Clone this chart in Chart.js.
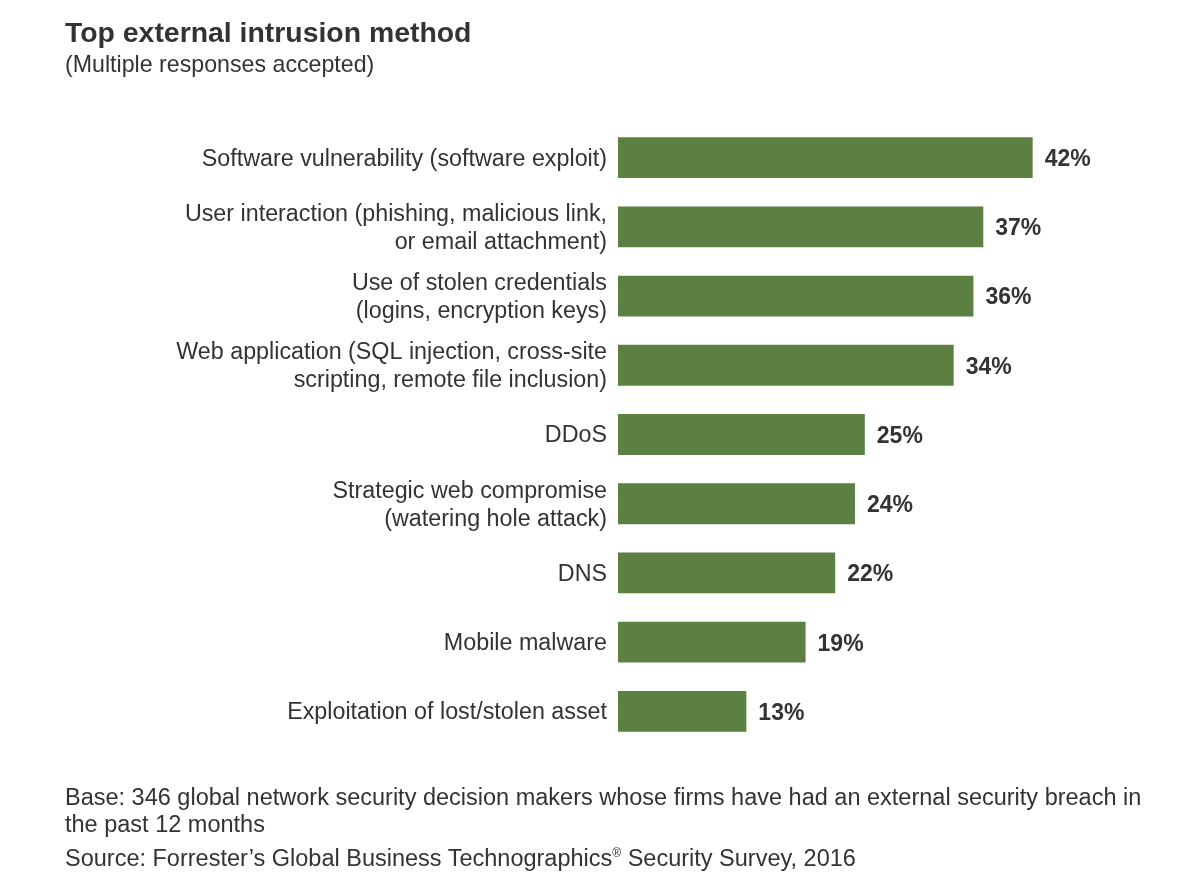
<!DOCTYPE html>
<html>
<head>
<meta charset="utf-8">
<script src="https://cdn.jsdelivr.net/npm/chart.js@4"></script>
<style>
  body { margin: 0; background: #fff; font-family: "Liberation Sans", Arial, sans-serif; color: #333; }
  #wrap { position: relative; width: 1200px; height: 893px; }
  canvas { position: absolute; left: 0; top: 0; }
  .txt { position: absolute; left: 65px; white-space: nowrap; }
  #title { top: 16px; font-size: 28.4px; font-weight: bold; }
  #sub { top: 51px; font-size: 23.2px; }
  #foot { top: 784px; font-size: 23.5px; line-height: 27px; }
</style>
</head>
<body>
<div id="wrap">
  <canvas id="chart" width="1200" height="893"></canvas>
  <div class="txt" id="title">Top external intrusion method</div>
  <div class="txt" id="sub">(Multiple responses accepted)</div>
  <div class="txt" id="foot">Base: 346 global network security decision makers whose firms have had an external security breach in<br>the past 12 months<br><span style="display:inline-block;margin-top:2px">Source: Forrester’s Global Business Technographics<sup style="font-size:12px">®</sup> Security Survey, 2016</span></div>
</div>
<script>
// categories (multi-line labels)
const methods = [
  ["Software vulnerability (software exploit)"],
  ["User interaction (phishing, malicious link,", "or email attachment)"],
  ["Use of stolen credentials", "(logins, encryption keys)"],
  ["Web application (SQL injection, cross-site", "scripting, remote file inclusion)"],
  ["DDoS"],
  ["Strategic web compromise", "(watering hole attack)"],
  ["DNS"],
  ["Mobile malware"],
  ["Exploitation of lost/stolen asset"]
];
const shares = [42, 37, 36, 34, 25, 24, 22, 19, 13];

// draw the % next to each bar
const valueLabels = {
  id: "valueLabels",
  afterDatasetsDraw(chart) {
    const ctx = chart.ctx;
    const meta = chart.getDatasetMeta(0);
    ctx.save();
    ctx.font = "bold 23px 'Liberation Sans', Arial, sans-serif";
    ctx.fillStyle = "#333";
    ctx.textBaseline = "middle";
    meta.data.forEach((bar, i) => {
      ctx.fillText(shares[i] + "%", bar.x + 12, bar.y + 2);
    });
    ctx.restore();
  }
};

new Chart(document.getElementById("chart"), {
  type: "bar",
  data: {
    labels: methods,
    datasets: [{
      data: shares,
      backgroundColor: "#5c7f42",
      categoryPercentage: 1,
      barPercentage: 0.59
    }]
  },
  options: {
    indexAxis: "y",
    responsive: false,
    animation: false,
    layout: { padding: { top: 123, bottom: 147, right: 39, left: 0 } },
    plugins: { legend: { display: false }, tooltip: { enabled: false } },
    scales: {
      x: { display: false, min: 0, max: 55 },
      y: {
        grid: { display: false, drawTicks: false },
        border: { display: false },
        ticks: {
          color: "#333",
          padding: 11,
          labelOffset: 1.5,
          font: { family: "'Liberation Sans', Arial, sans-serif", size: 23.3, lineHeight: 1.2 }
        },
        afterFit(scale) { scale.width = 618; }
      }
    }
  },
  plugins: [valueLabels]
});
</script>
</body>
</html>
